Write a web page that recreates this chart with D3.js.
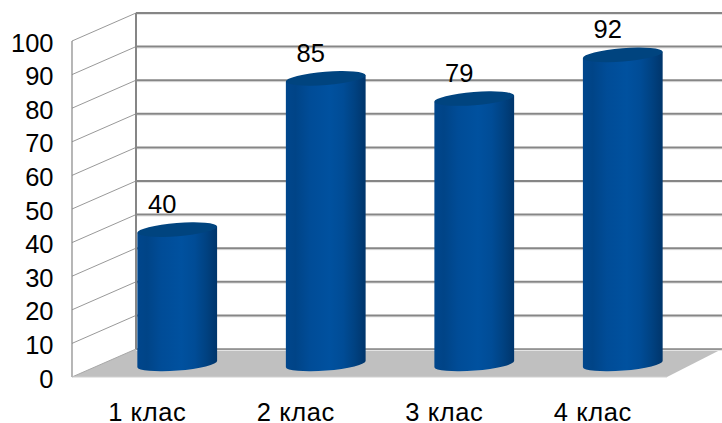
<!DOCTYPE html>
<html><head><meta charset="utf-8">
<script src="https://cdn.jsdelivr.net/npm/d3@7"></script>
<style>html,body{margin:0;padding:0;background:#fff}svg{display:block}text{font-family:"Liberation Sans",Arial,sans-serif;fill:#000}</style>
</head><body><svg id="c" width="722" height="423"></svg>
<script>
const categories = ["1 клас","2 клас","3 клас","4 клас"];
const values = [40,85,79,92];
const tickValues = [0,10,20,30,40,50,60,70,80,90,100];

const W=722,H=423, depthX=64, depthY=28;
const y=d3.scaleLinear().domain([0,100]).range([377,41]);
const x=d3.scaleBand().domain(categories).range([103,697]).paddingInner(0.4675).paddingOuter(0.2335);
const svg=d3.select("#c");
const defs=svg.append("defs");
const g=defs.append("linearGradient").attr("id","cyl").attr("x1",0).attr("x2",1).attr("y1",0).attr("y2",0);
[[0,"#00468c"],[0.12,"#004487"],[0.3,"#004c97"],[0.55,"#00519f"],[0.72,"#004c96"],[0.86,"#004282"],[1,"#00356b"]]
 .forEach(s=>g.append("stop").attr("offset",s[0]).attr("stop-color",s[1]));

const x0=72,x1=x0+depthX,xR=722,floorR=667;
const grid="#868686";
// floor
svg.append("polygon").attr("fill","#c0c0c0")
 .attr("points",[[x0,y(0)],[x1,y(0)-depthY],[xR,y(0)-depthY],[floorR,y(0)]].join(" "));
// gridlines
const gl=svg.append("g");
gl.selectAll(".halo").data(tickValues).join("line").attr("x1",x1).attr("x2",xR)
 .attr("y1",d=>y(d)-depthY+1.5).attr("y2",d=>y(d)-depthY+1.5).attr("stroke","#e4e4e4").attr("stroke-width",1);
gl.selectAll(".back").data(tickValues).join("line").attr("x1",x1).attr("x2",xR)
 .attr("y1",d=>y(d)-depthY).attr("y2",d=>y(d)-depthY).attr("stroke",grid).attr("stroke-width",d=>d===0?1.5:2);
gl.selectAll(".side").data(tickValues).join("line").attr("x1",x0).attr("x2",x1)
 .attr("y1",d=>y(d)).attr("y2",d=>y(d)-depthY).attr("stroke",d=>d===0?"#a8a8a8":"#999").attr("stroke-width",1);
gl.append("line").attr("x1",x1).attr("x2",x1).attr("y1",y(100)-depthY).attr("y2",y(0)-depthY).attr("stroke",grid).attr("stroke-width",2);
gl.append("line").attr("x1",x0).attr("x2",x0).attr("y1",y(100)).attr("y2",y(0)).attr("stroke",grid).attr("stroke-width",1.2);
gl.append("line").attr("x1",x0).attr("x2",floorR).attr("y1",y(0)).attr("y2",y(0)).attr("stroke","#d0d0d0").attr("stroke-width",1);
// y tick labels
svg.append("g").selectAll("text").data(tickValues).join("text")
 .attr("x",53.5).attr("y",d=>y(d)+10.5).attr("text-anchor","end").attr("font-size",25.5).text(d=>d);
// bars
const rx=40, ry=6.6, rot=-4.5;
const mid=y(0)-depthY/2+1;
const bars=svg.append("g").selectAll("g").data(values).join("g");
const dyr=rx*Math.sin(rot*Math.PI/180), dxr=rx*Math.cos(rot*Math.PI/180);
bars.each(function(v,i){
  const sel=d3.select(this), cx=x(categories[i])+x.bandwidth()/2;
  const topY=mid-(y(0)-y(v));
  sel.append("path").attr("fill","url(#cyl)")
   .attr("d",`M${cx-dxr},${topY-dyr} L${cx-dxr},${mid-dyr} A${rx},${ry} ${rot} 0 0 ${cx+dxr},${mid+dyr} L${cx+dxr},${topY+dyr} Z`);
  sel.append("ellipse").attr("cx",cx).attr("cy",topY).attr("rx",rx).attr("ry",ry)
   .attr("transform",`rotate(${rot} ${cx} ${topY})`).attr("fill","#00447f");
  sel.append("text").attr("x",cx-15).attr("y",topY-16.5).attr("text-anchor","middle").attr("font-size",25.5).text(v);
});
// category labels
svg.append("g").selectAll("text").data(categories).join("text")
 .attr("x",d=>x(d)+x.bandwidth()/2-30).attr("y",421).attr("text-anchor","middle").attr("font-size",25.5).attr("letter-spacing",0.6).text(d=>d);
</script></body></html>
